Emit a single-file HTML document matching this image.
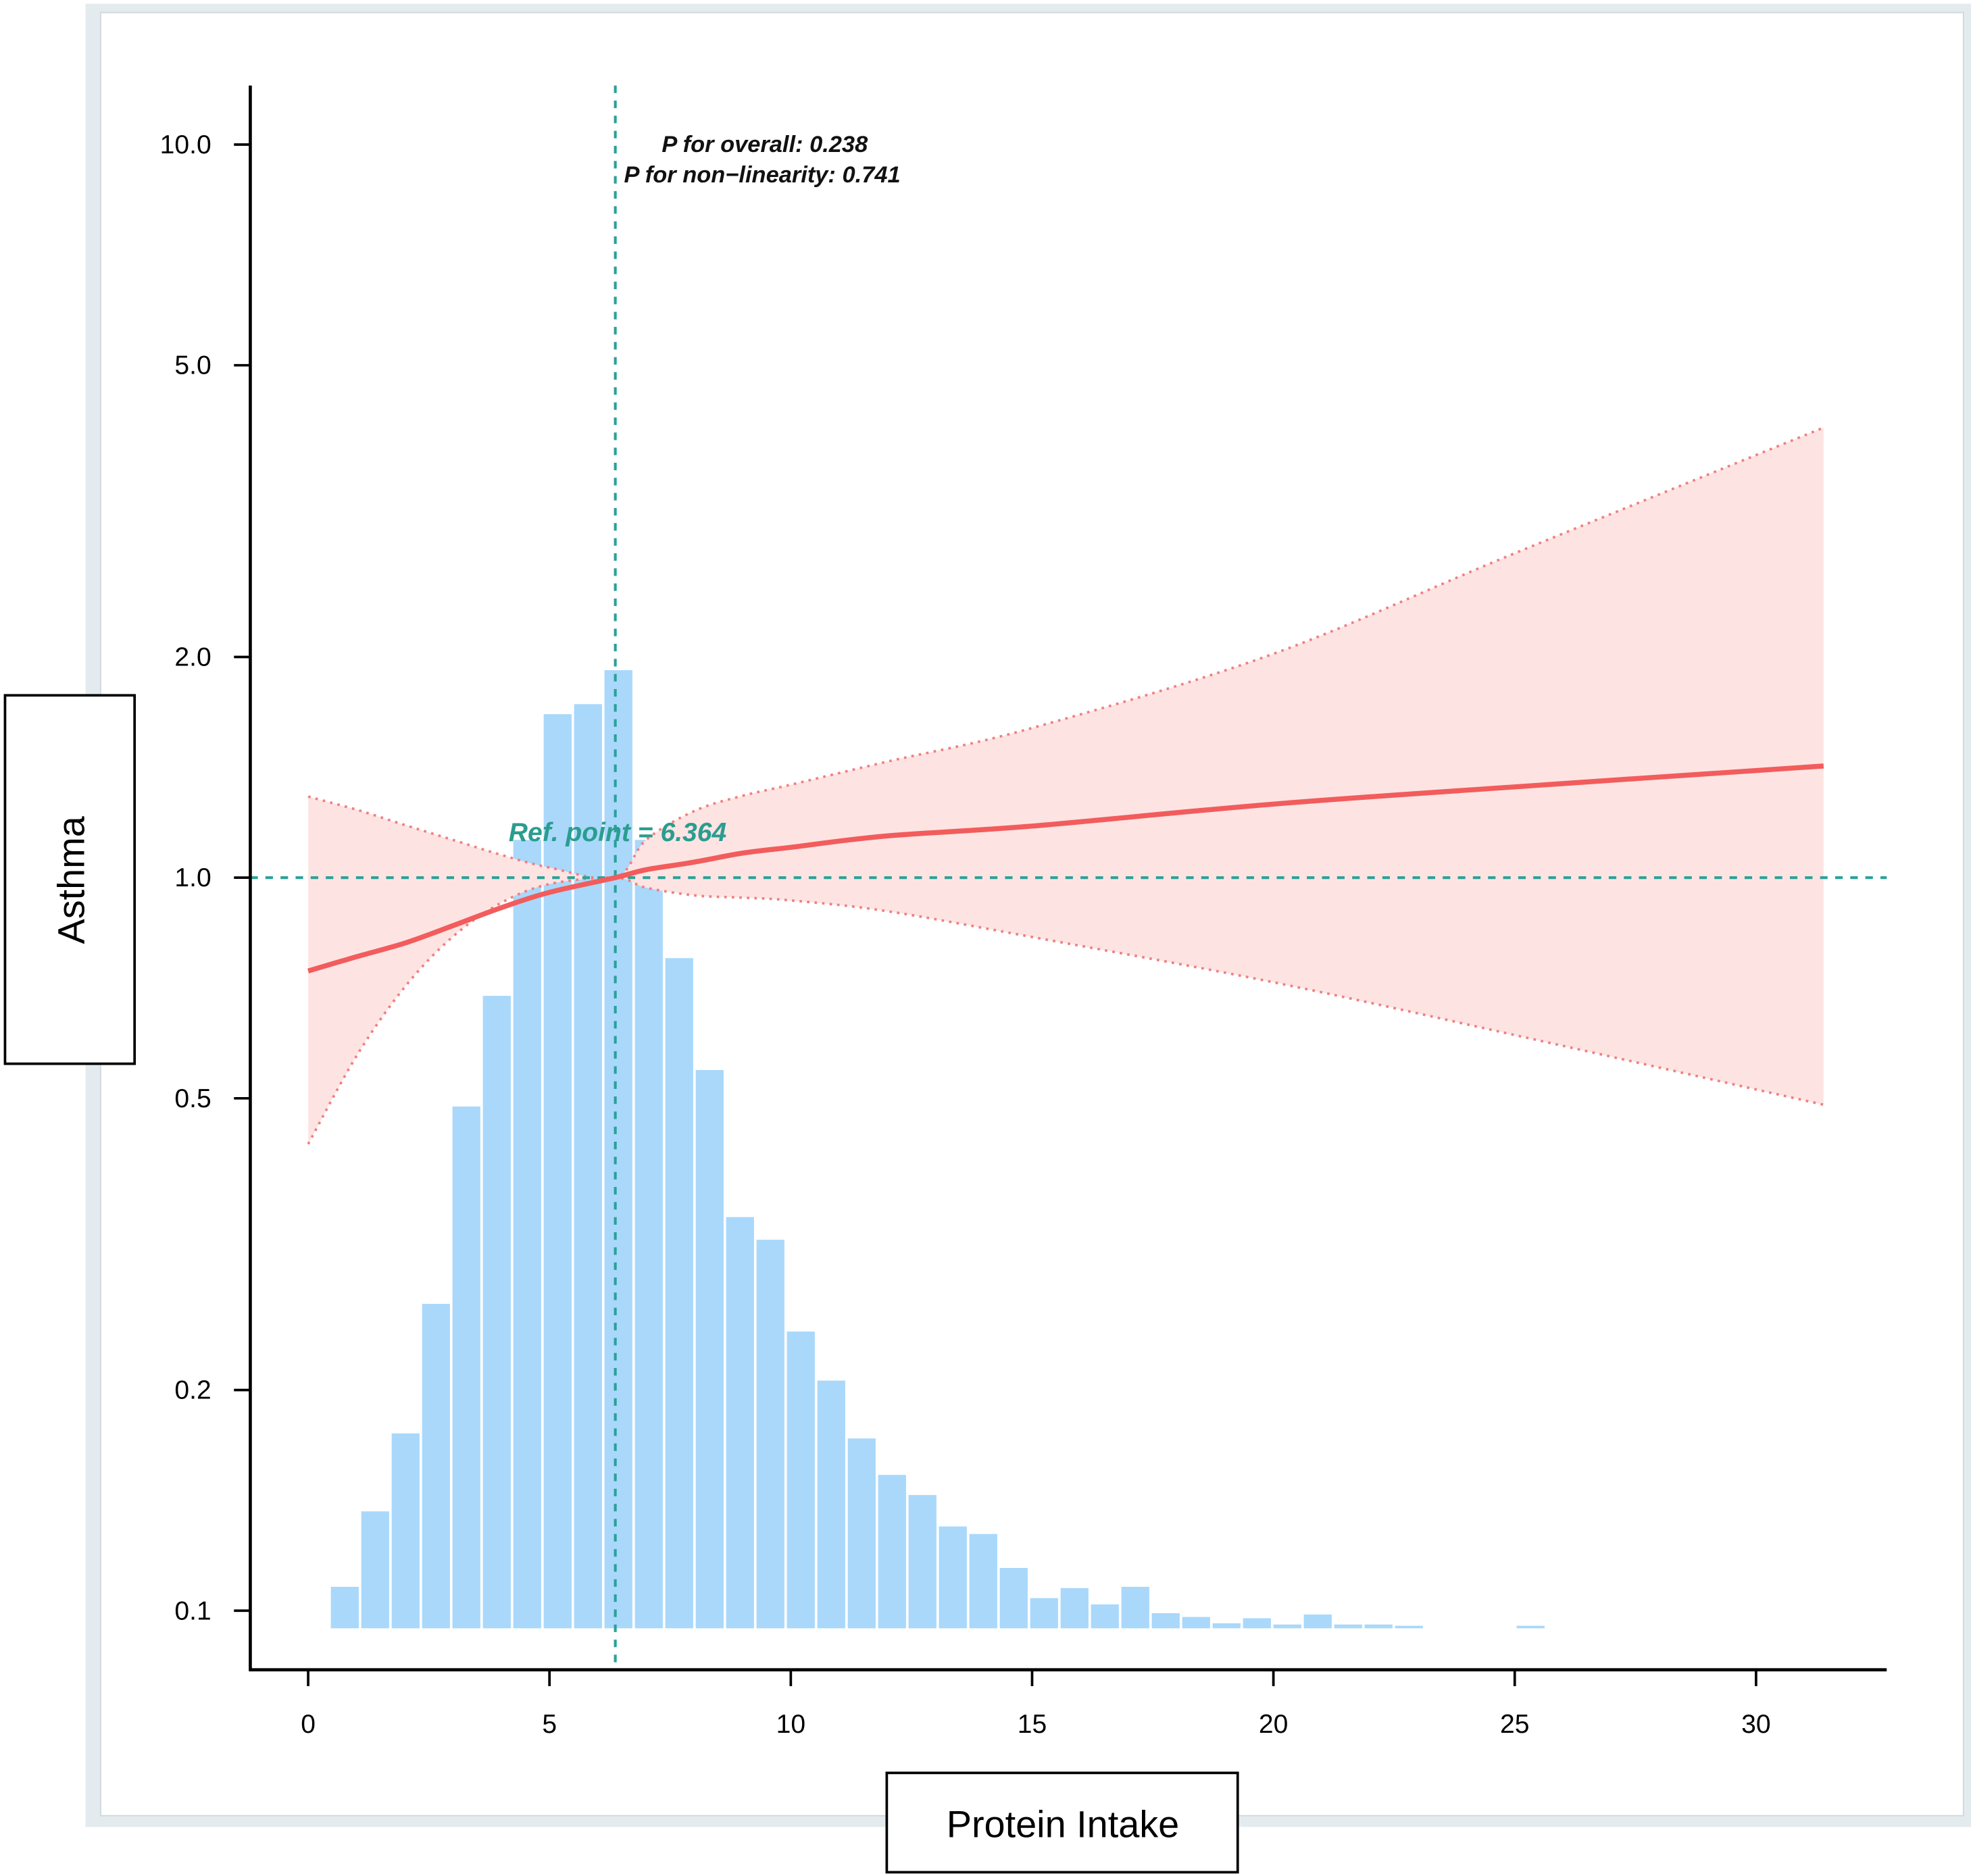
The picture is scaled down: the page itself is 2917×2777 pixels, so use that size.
<!DOCTYPE html>
<html><head><meta charset="utf-8"><style>
html,body{margin:0;padding:0;background:#fff;}
svg{display:block;}
</style></head><body>
<svg id="chart" width="2917" height="2777" viewBox="0 0 1567 1492" preserveAspectRatio="none" xmlns="http://www.w3.org/2000/svg" font-family="Liberation Sans, sans-serif">
<rect x="0" y="0" width="1567" height="1492" fill="#fff"/>
<rect x="68" y="3" width="1499" height="1450" fill="#e4ebee"/>
<rect x="80" y="10" width="1481" height="1434" fill="#fff" stroke="#d0d8dc" stroke-width="1"/>
<g id="hist"></g>
<path id="ci" fill="#fde4e3" stroke="none"/>
<path id="ciUp" fill="none" stroke="#f08080" stroke-width="2" stroke-dasharray="2,4"/>
<path id="ciLo" fill="none" stroke="#f08080" stroke-width="2" stroke-dasharray="2,4"/>
<line id="refV" stroke="#2aa198" stroke-width="2.2" stroke-dasharray="6,6"/>
<line id="refH" stroke="#2aa198" stroke-width="2.2" stroke-dasharray="6,6"/>
<path id="curve" fill="none" stroke="#f25c5c" stroke-width="4"/>
<g id="axes"></g>
<text x="608" y="121" text-anchor="middle" font-size="18.5" font-weight="bold" font-style="italic" fill="#111">P for overall: 0.238</text>
<text x="606" y="145" text-anchor="middle" font-size="18.5" font-weight="bold" font-style="italic" fill="#111">P for non−linearity: 0.741</text>
<text x="491" y="669" text-anchor="middle" font-size="21" font-weight="bold" font-style="italic" fill="#2a9d8f">Ref. point = 6.364</text>
<rect x="4" y="553" width="103" height="293" fill="#fff" stroke="#000" stroke-width="2"/>
<text transform="translate(67,700) rotate(-90)" text-anchor="middle" font-size="30" fill="#000">Asthma</text>
<rect x="705" y="1410" width="279" height="79" fill="#fff" stroke="#000" stroke-width="2"/>
<text x="845" y="1461" text-anchor="middle" font-size="30" fill="#000">Protein Intake</text>
</svg>
<script>
// data
const histCounts = [33,93,155,258,415,503,627,727,735,762,627,533,444,327,309,236,197,151,122,106,81,75,48,24,32,19,33,12,9,4,8,3,11,3,3,2,0,0,0,2];
const binStart = 0.47;
const binWidth = 0.63;
const curveX = [0,1,2,3,4,5,6.364,7,8,9,10,12,15,20,25,31.4];
const curveOR = [0.746,0.78,0.814,0.86,0.91,0.955,1.0,1.025,1.05,1.08,1.1,1.14,1.176,1.26,1.33,1.42];
const ciX = [0,1,2,3,4,5,6.364,7,8,9,10,12,15,20,25,31.4];
const ciUpper = [1.29,1.238,1.18,1.126,1.074,1.032,1.0,1.126,1.233,1.293,1.339,1.44,1.6,2.02,2.77,4.11];
const ciLower = [0.433,0.571,0.709,0.831,0.924,0.98,1.0,0.969,0.946,0.939,0.931,0.9,0.83,0.72,0.61,0.49];
const yTicks = [10.0,5.0,2.0,1.0,0.5,0.2,0.1];
const yTickLabels = ["10.0","5.0","2.0","1.0","0.5","0.2","0.1"];
const xTicks = [0,5,10,15,20,25,30];
const refPoint = 6.364;

const NS="http://www.w3.org/2000/svg";
const X = v => 245 + v*38.37;
const Y = v => 698 - Math.log10(v)*583;
const HBASE = 1295;
const H = c => HBASE - c*1.0;

const hist=document.getElementById('hist');
histCounts.forEach((c,i)=>{
  if(c<=0) return;
  const r=document.createElementNS(NS,'rect');
  const x0=X(binStart+i*binWidth);
  r.setAttribute('x',x0);
  r.setAttribute('width',X(binStart+(i+1)*binWidth)-x0-2);
  r.setAttribute('y',H(c));
  r.setAttribute('height',HBASE-H(c));
  r.setAttribute('fill','#a9d8fb');
  
  
  hist.appendChild(r);
});
function smooth(xs,ys,first){
  const p=xs.map((x,i)=>[X(x),Y(ys[i])]);
  let d=(first?'M':'L')+p[0][0].toFixed(1)+','+p[0][1].toFixed(1);
  for(let i=0;i<p.length-1;i++){
    const p0=p[Math.max(i-1,0)],p1=p[i],p2=p[i+1],p3=p[Math.min(i+2,p.length-1)];
    const c1=[p1[0]+(p2[0]-p0[0])/6,p1[1]+(p2[1]-p0[1])/6];
    const c2=[p2[0]-(p3[0]-p1[0])/6,p2[1]-(p3[1]-p1[1])/6];
    d+=' C'+c1[0].toFixed(1)+','+c1[1].toFixed(1)+' '+c2[0].toFixed(1)+','+c2[1].toFixed(1)+' '+p2[0].toFixed(1)+','+p2[1].toFixed(1);
  }
  return d;
}
document.getElementById('curve').setAttribute('d',smooth(curveX,curveOR,true));
const up=smooth(ciX,ciUpper,true), lo=smooth(ciX,ciLower,true);
document.getElementById('ciUp').setAttribute('d',up);
document.getElementById('ciLo').setAttribute('d',lo);
const rx=ciX.slice().reverse(), rl=ciLower.slice().reverse();
document.getElementById('ci').setAttribute('d',up+' '+smooth(rx,rl,false)+' Z');
const rv=document.getElementById('refV');
rv.setAttribute('x1',X(refPoint));rv.setAttribute('x2',X(refPoint));rv.setAttribute('y1',68);rv.setAttribute('y2',1328);
const rh=document.getElementById('refH');
rh.setAttribute('x1',199);rh.setAttribute('x2',1500);rh.setAttribute('y1',Y(1));rh.setAttribute('y2',Y(1));

const axes=document.getElementById('axes');
function mk(tag,attrs,name,text){const e=document.createElementNS(NS,tag);for(const k in attrs)e.setAttribute(k,attrs[k]);
  
  
  if(text!==undefined)e.textContent=text;axes.appendChild(e);return e;}
mk('line',{x1:199,x2:199,y1:68,y2:1329,stroke:'#000','stroke-width':2.5},'y-axis-line');
mk('line',{x1:198,x2:1500,y1:1328,y2:1328,stroke:'#000','stroke-width':2.5},'x-axis-line');
yTicks.forEach((t,i)=>{
  mk('line',{x1:186,x2:199,y1:Y(t),y2:Y(t),stroke:'#000','stroke-width':2},'y-tick');
  mk('text',{x:168,y:Y(t)+7,'text-anchor':'end','font-size':21,fill:'#000'},'y-tick-label',yTickLabels[i]);
});
xTicks.forEach(t=>{
  mk('line',{x1:X(t),x2:X(t),y1:1328,y2:1341,stroke:'#000','stroke-width':2},'x-tick');
  mk('text',{x:X(t),y:1378,'text-anchor':'middle','font-size':21,fill:'#000'},'x-tick-label',String(t));
});
</script>
</body></html>
